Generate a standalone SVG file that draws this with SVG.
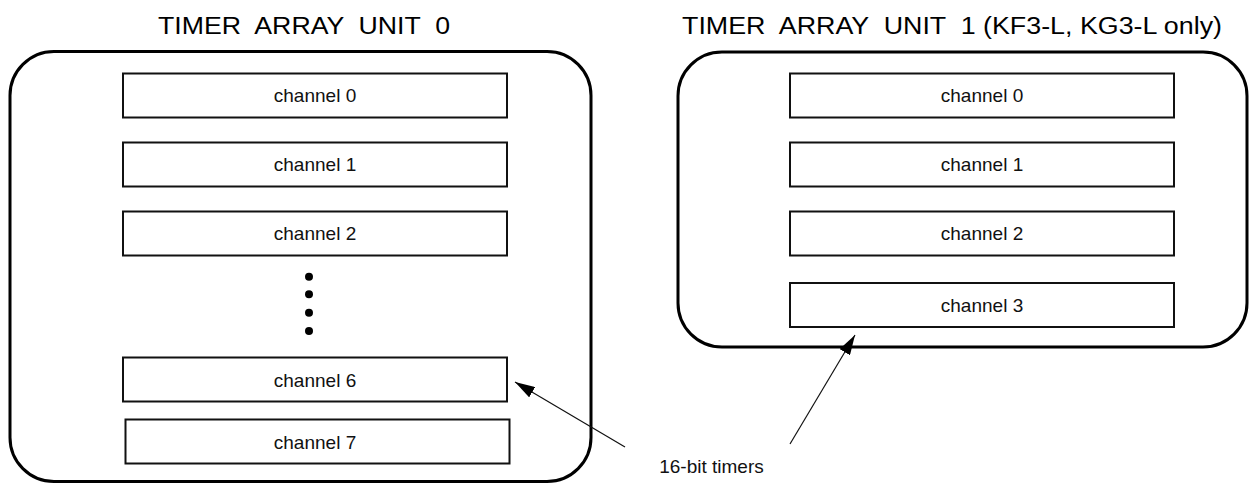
<svg xmlns="http://www.w3.org/2000/svg" width="1250" height="483" viewBox="0 0 1250 483">
  <style>
    .unit { fill: none; stroke: #000; stroke-width: 3; }
    .ch { fill: #fff; stroke: #111; stroke-width: 2; }
    .lbl { font-family: "Liberation Sans", Arial, sans-serif; font-size: 19px; fill: #111; text-anchor: middle; }
    .title { font-family: "Liberation Sans", Arial, sans-serif; font-size: 23px; fill: #000; }
    .conn { stroke: #111; stroke-width: 1.2; fill: none; marker-end: url(#arrow); }
  </style>
  <defs>
    <marker id="arrow" viewBox="0 0 20 12" refX="20" refY="6" markerWidth="20" markerHeight="12" markerUnits="userSpaceOnUse" orient="auto">
      <path d="M0,0 L20,6 L0,12 Z" fill="#000"/>
    </marker>
  </defs>
  <rect width="1250" height="483" fill="#fff"/>

  <text class="title" x="158" y="33.5" textLength="292" lengthAdjust="spacingAndGlyphs" xml:space="preserve">TIMER  ARRAY  UNIT  0</text>
  <text class="title" x="682" y="33.5" textLength="540" lengthAdjust="spacingAndGlyphs" xml:space="preserve">TIMER  ARRAY  UNIT  1 (KF3-L, KG3-L only)</text>

  <g id="unit0">
    <rect class="unit" x="10" y="51.5" width="581" height="430" rx="44" ry="44"/>
    <g id="u0-ch0"><rect class="ch" x="123" y="73.5" width="384" height="44"/><text class="lbl" x="315" y="102">channel 0</text></g>
    <g id="u0-ch1"><rect class="ch" x="123" y="142.5" width="384" height="44"/><text class="lbl" x="315" y="171">channel 1</text></g>
    <g id="u0-ch2"><rect class="ch" x="123" y="211.5" width="384" height="44"/><text class="lbl" x="315" y="240">channel 2</text></g>
    <g id="u0-dots" fill="#000">
      <circle cx="309" cy="276.7" r="4"/>
      <circle cx="309" cy="294.3" r="4"/>
      <circle cx="309" cy="312.7" r="4"/>
      <circle cx="309" cy="331" r="4"/>
    </g>
    <g id="u0-ch6"><rect class="ch" x="123" y="357.5" width="384" height="44"/><text class="lbl" x="315" y="386.5">channel 6</text></g>
    <g id="u0-ch7"><rect class="ch" x="125.5" y="419.5" width="384" height="44"/><text class="lbl" x="315" y="448.5">channel 7</text></g>
  </g>

  <g id="unit1">
    <rect class="unit" x="678" y="52" width="569" height="295" rx="44" ry="44"/>
    <g id="u1-ch0"><rect class="ch" x="790" y="73.5" width="384" height="44"/><text class="lbl" x="982" y="102">channel 0</text></g>
    <g id="u1-ch1"><rect class="ch" x="790" y="142.5" width="384" height="44"/><text class="lbl" x="982" y="171">channel 1</text></g>
    <g id="u1-ch2"><rect class="ch" x="790" y="211.5" width="384" height="44"/><text class="lbl" x="982" y="240">channel 2</text></g>
    <g id="u1-ch3"><rect class="ch" x="790" y="283" width="384" height="44"/><text class="lbl" x="982" y="312">channel 3</text></g>
  </g>

  <g id="label-timers">
    <text class="lbl" x="711.5" y="472.7" style="font-size:19px">16-bit timers</text>
  </g>

  <g id="connectors">
    <line class="conn" x1="625" y1="447" x2="515" y2="382"/>
    <line class="conn" x1="790" y1="444" x2="855" y2="335"/>
  </g>
</svg>
